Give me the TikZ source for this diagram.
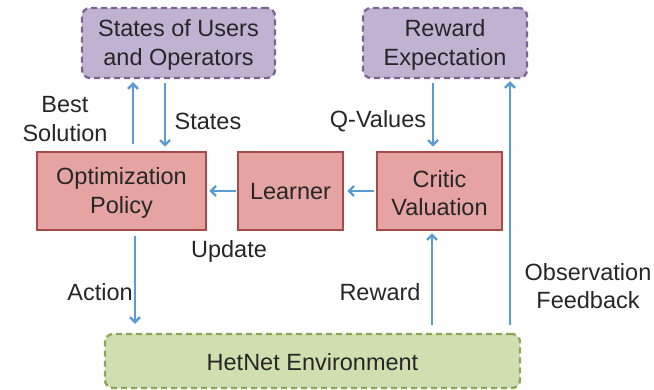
\documentclass[tikz,border=0pt]{standalone}
\usepackage{fontspec}
\setmainfont{Liberation Sans}
\usetikzlibrary{arrows.meta}
\definecolor{txt}{HTML}{262626}
\definecolor{purfill}{HTML}{C2B2D2}
\definecolor{purdraw}{HTML}{7C6394}
\definecolor{redfill}{HTML}{E5A4A2}
\definecolor{reddraw}{HTML}{A8494A}
\definecolor{grnfill}{HTML}{D0DFB0}
\definecolor{grndraw}{HTML}{8BA659}
\definecolor{arr}{HTML}{5B9BD5}
\tikzset{
  every node/.style={font=\fontsize{23.5}{28.5}\selectfont, text=txt, align=center, inner sep=0pt},
  dbox/.style={draw=purdraw, fill=purfill, line width=2.3pt, dash pattern=on 6pt off 4pt, rounded corners=8pt},
  rbox/.style={draw=reddraw, fill=redfill, line width=2.6pt},
  gbox/.style={draw=grndraw, fill=grnfill, line width=2.3pt, dash pattern=on 6pt off 4pt, rounded corners=8pt},
  conn/.style={draw=arr, line width=2.7pt, -{Straight Barb[length=5pt,width=10pt,line width=2.4pt]}},
}
\begin{document}
\begin{tikzpicture}[x=1pt,y=-1pt]
\useasboundingbox (0,0) rectangle (654,390);
% boxes
\node[dbox, minimum width=193pt, minimum height=70pt] (states) at (178.5,43) {};
\node[dbox, minimum width=164pt, minimum height=70pt] (rexp) at (445,43) {};
\node[rbox, minimum width=169pt, minimum height=78pt] (opt) at (121.5,191) {};
\node[rbox, minimum width=105pt, minimum height=78pt] (learn) at (290.5,191) {};
\node[rbox, minimum width=125pt, minimum height=78pt] (critic) at (439.5,191) {};
\node[gbox, minimum width=415pt, minimum height=54pt] (env) at (312.5,361) {};
% box texts
\node (tstates) at ([yshift=-2pt]states.center) {States of Users\\and Operators};
\node (trexp) at ([yshift=-2pt]rexp.center) {Reward\\Expectation};
\node (topt) at ([yshift=-2pt]opt.center) {Optimization\\Policy};
\node (tlearn) at ([yshift=-1pt]learn.center) {Learner};
\node (tcritic) at ([yshift=-2pt]critic.center) {Critic\\Valuation};
\node (tenv) at ([yshift=-1pt]env.center) {HetNet Environment};
% connectors
\draw[conn, shorten <=7pt, shorten >=3pt] (opt.north -| 133,0) -- (states.south -| 133,0);
\draw[conn, shorten <=4pt, shorten >=4pt] (states.south -| 165,0) -- (opt.north -| 165,0);
\draw[conn, shorten <=4pt, shorten >=4pt] (rexp.south -| 433,0) -- (critic.north -| 433,0);
\draw[conn, shorten <=1pt, shorten >=2pt] (learn.west) -- (opt.east);
\draw[conn, shorten <=2pt, shorten >=3pt] (critic.west) -- (learn.east);
\draw[conn, shorten <=5pt, shorten >=9pt] (opt.south -| 135,0) -- (env.north -| 135,0);
\draw[conn, shorten <=8pt, shorten >=2pt] (env.north -| 432,0) -- (critic.south -| 432,0);
\draw[conn, shorten <=8pt, shorten >=2pt] (env.north -| 510,0) -- (rexp.south -| 510,0);
% labels
\node (lbest) at (65,119) {Best\\Solution};
\node (lstates) at (208,121) {States};
\node (lq) at (378,121) {Q-Values};
\node (lupd) at (229,251) {Update};
\node (lact) at (100,292) {Action};
\node (lrew) at (380,292) {Reward};
\node (lobs) at (588,286) {Observation\\Feedback};
\end{tikzpicture}
\end{document}
